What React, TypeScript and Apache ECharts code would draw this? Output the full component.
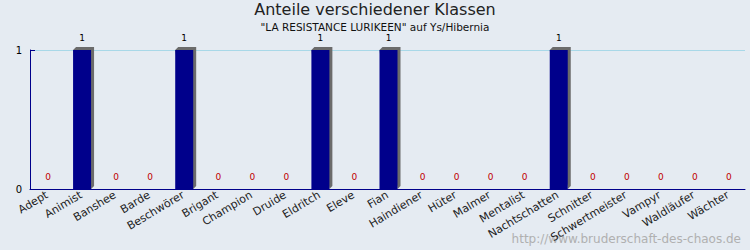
import React, { useEffect, useRef } from "react";
import * as echarts from "echarts";

const categories = ["Adept", "Animist", "Banshee", "Barde", "Beschwörer", "Brigant", "Champion", "Druide", "Eldritch", "Eleve", "Fian", "Haindiener", "Hüter", "Malmer", "Mentalist", "Nachtschatten", "Schnitter", "Schwertmeister", "Vampyr", "Waldläufer", "Wächter"];
const values = [0, 1, 0, 0, 1, 0, 0, 0, 1, 0, 1, 0, 0, 0, 0, 1, 0, 0, 0, 0, 0];
const yTicks = [0, 1];

const FONT = "DejaVu Sans";

export default function App() {
  const ref = useRef<HTMLDivElement>(null);
  useEffect(() => {
    if (!ref.current) return;
    const chart = echarts.init(ref.current, null, { renderer: "svg" });
    chart.setOption({
      animation: false,
      backgroundColor: "#e5ebf2",
      title: [
        { text: "Anteile verschiedener Klassen", left: "center", top: 1, padding: 0, textStyle: { fontFamily: FONT, fontSize: 16, fontWeight: "normal", color: "#222" } },
        { text: "\"LA RESISTANCE LURIKEEN\" auf Ys/Hibernia", left: "center", top: 21, padding: 0, textStyle: { fontFamily: FONT, fontSize: 10.5, fontWeight: "normal", color: "#111" } },
      ],
      graphic: [
        { type: "text", right: 9, top: 233, style: { text: "http://www.bruderschaft-des-chaos.de", fontFamily: FONT, fontSize: 12, fill: "#b0b0b0" } },
      ],
      grid: { left: 30, right: 5, top: 50, bottom: 61 },
      xAxis: {
        type: "category",
        data: categories,
        axisLine: { lineStyle: { color: "#00008b", width: 1 } },
        axisTick: { inside: true, length: 4, lineStyle: { color: "#00008b" } },
        axisLabel: { rotate: 31, fontFamily: FONT, fontSize: 11, color: "#222", margin: 5, interval: 0 },
      },
      yAxis: {
        type: "value",
        min: yTicks[0],
        max: yTicks[yTicks.length - 1],
        interval: 1,
        axisLine: { show: true, lineStyle: { color: "#00008b" } },
        axisTick: { show: true, inside: true, length: 5, lineStyle: { color: "#00008b" } },
        splitLine: { show: true, lineStyle: { color: "#a8d8e8", width: 1 } },
        axisLabel: { fontFamily: FONT, fontSize: 10, color: "#000", margin: 8 },
      },
      series: [
        {
          type: "custom",
          data: values.map((v, i) => [i, v]),
          renderItem: (params: any, api: any) => {
            const idx = api.value(0);
            const v = api.value(1);
            const top = api.coord([idx, v]);
            const base = api.coord([idx, 0]);
            const x0 = top[0] - 8;
            const x1 = top[0] + 10;
            const y0 = top[1];
            const y1 = base[1];
            const children: any[] = [];
            if (v > 0) {
              children.push({
                type: "polygon",
                shape: { points: [[x0, y0], [x0 + 3, y0 - 3], [x1 + 3, y0 - 3], [x1 + 3, y1 - 3], [x1, y1]] },
                style: { fill: "#6b6b6b" },
              });
              children.push({ type: "rect", shape: { x: x0, y: y0, width: x1 - x0, height: y1 - y0 }, style: { fill: "#00008b" } });
            }
            children.push({
              type: "text",
              x: top[0] + 1,
              y: y0 - 12,
              style: { text: String(v), fontFamily: FONT, fontSize: 9, fill: v > 0 ? "#000" : "#c00000", align: "center", verticalAlign: "middle" },
            });
            return { type: "group", children };
          },
        },
      ],
    });
    return () => chart.dispose();
  }, []);
  return <div ref={ref} style={{ width: 750, height: 250, position: "absolute", left: 0, top: 0 }} />;
}
